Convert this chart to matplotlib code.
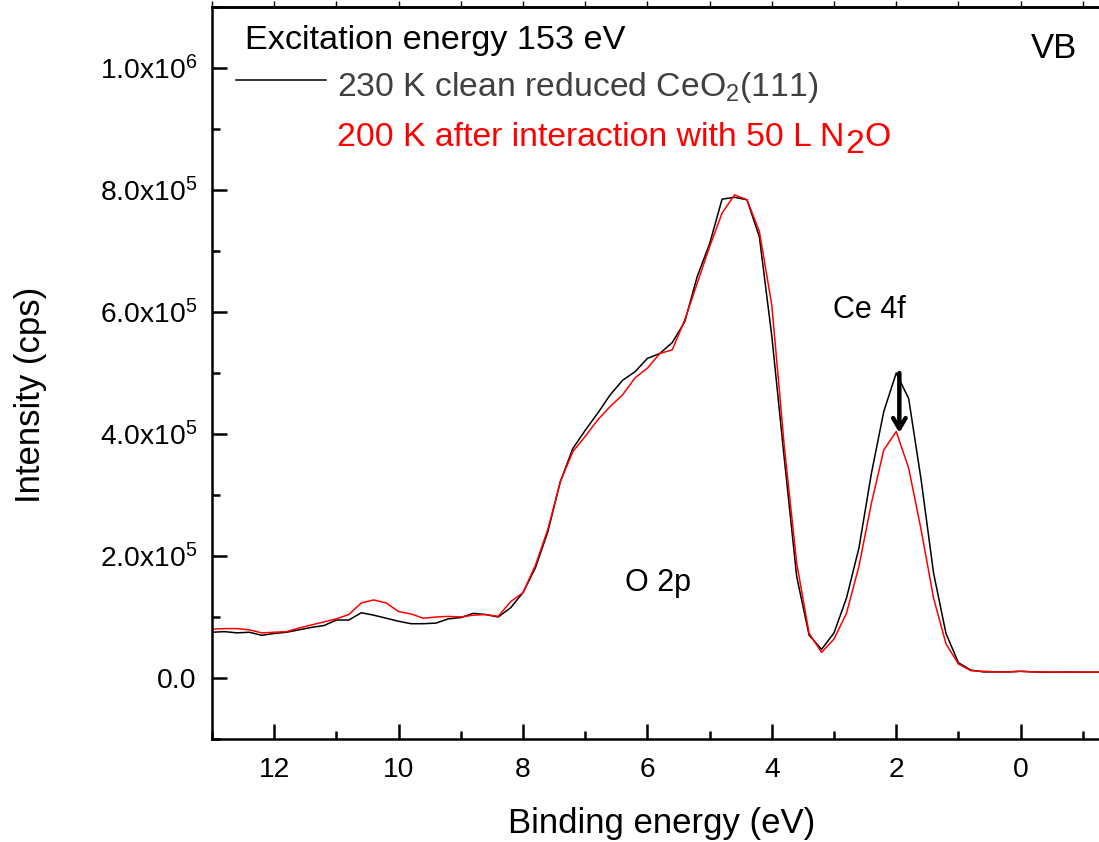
import math
import matplotlib
matplotlib.use('Agg')
import matplotlib.pyplot as plt
from matplotlib.ticker import MultipleLocator, FixedLocator, FuncFormatter

plt.rcParams['font.family'] = ['Liberation Sans', 'DejaVu Sans']
plt.rcParams['mathtext.fontset'] = 'custom'
plt.rcParams['mathtext.rm'] = 'Liberation Sans'
plt.rcParams['mathtext.it'] = 'Liberation Sans:italic'
plt.rcParams['mathtext.bf'] = 'Liberation Sans:bold'

# Binding energy grid (eV)
energy = [13.0, 12.8, 12.6, 12.4, 12.2, 12.0, 11.8, 11.6, 11.4, 11.2,
          11.0, 10.8, 10.6, 10.4, 10.2, 10.0, 9.8, 9.6, 9.4, 9.2,
          9.0, 8.8, 8.6, 8.4, 8.2, 8.0, 7.8, 7.6, 7.4, 7.2,
          7.0, 6.8, 6.6, 6.4, 6.2, 6.0, 5.8, 5.6, 5.4, 5.2,
          5.0, 4.8, 4.6, 4.4, 4.2, 4.0, 3.8, 3.6, 3.4, 3.2,
          3.0, 2.8, 2.6, 2.4, 2.2, 2.0, 1.8, 1.6, 1.4, 1.2,
          1.0, 0.8, 0.6, 0.4, 0.2, 0.0, -0.2, -0.4, -0.6, -0.8,
          -1.0, -1.2, -1.4]

# Intensity in kcps: 230 K clean reduced CeO2(111)
clean_k = [75, 76, 74, 75, 70, 73, 75, 79, 83, 86,
           95, 95, 107, 103, 98, 93, 89, 89, 90, 97,
           99, 106, 104, 100, 115, 140, 181, 240, 322, 376,
           406, 434, 464, 488, 502, 524, 532, 550, 584, 658,
           712, 785, 788, 784, 723, 560, 360, 166, 70, 47,
           74, 131, 213, 335, 437, 500, 458, 325, 172, 73,
           25, 13, 10, 10, 10, 11, 10, 9.5, 9.5, 9.8,
           9.5, 9.5, 9.5]

# Intensity in kcps: 200 K after interaction with 50 L N2O
n2o_k = [80, 81, 81, 79, 74, 75, 76, 82, 87, 92,
         97, 104, 123, 128, 123, 109, 105, 98, 100, 101,
         100, 103, 104, 101, 125, 140, 185, 244, 322, 371,
         396, 423, 445, 464, 492, 508, 532, 538, 587, 647,
         707, 762, 792, 784, 732, 611, 380, 188, 73, 42,
         64, 106, 183, 286, 374, 404, 344, 243, 131, 56,
         23, 12, 11, 10, 10, 11, 10, 9.8, 9.6, 9.8,
         9.6, 9.6, 9.6]

clean = [v * 1e3 for v in clean_k]
n2o = [v * 1e3 for v in n2o_k]

y_ticks = [0, 2e5, 4e5, 6e5, 8e5, 1e6]
x_ticks = [12, 10, 8, 6, 4, 2, 0]

W, H = 1099, 842
fig = plt.figure(figsize=(W / 100, H / 100), dpi=100)
ax = fig.add_axes([212 / W, 1 - 739 / H, 892 / W, (739 - 7) / H])

ax.plot(energy, clean, color='black', lw=1.1)
ax.plot(energy, n2o, color='red', lw=1.1)

ax.set_xlim(13, -1.34)
ax.set_ylim(-1e5, 1.1e6)

for s in ['left', 'bottom', 'top']:
    ax.spines[s].set_linewidth(1.8)
ax.spines['right'].set_visible(False)

ax.xaxis.set_major_locator(FixedLocator(x_ticks))
ax.xaxis.set_minor_locator(MultipleLocator(1))
ax.yaxis.set_major_locator(FixedLocator(y_ticks))
ax.yaxis.set_minor_locator(MultipleLocator(1e5))


def yfmt(v, pos):
    if v == 0:
        return '0.0'
    e = int(math.floor(math.log10(abs(v)) + 1e-9))
    m = v / 10 ** e
    return r'$\mathregular{%.1fx10^{%d}}$' % (m, e)


ax.yaxis.set_major_formatter(FuncFormatter(yfmt))
ax.tick_params(axis='both', which='major', direction='in', length=11, width=1.8,
               labelsize=20.3)
ax.tick_params(axis='both', which='minor', direction='in', length=6, width=1.8)
ax.tick_params(axis='y', which='major', pad=11)
ax.tick_params(axis='x', which='major', pad=13)
ax.tick_params(right=False, top=False, which='both')

sec = ax.secondary_xaxis('top')
sec.xaxis.set_major_locator(MultipleLocator(1))
sec.tick_params(direction='out', length=4, width=1.0, labeltop=False)
sec.spines['top'].set_linewidth(1.8)

ax.set_xlabel('Binding energy (eV)', fontsize=25)
ax.xaxis.label.set_va('center')
ax.xaxis.set_label_coords((662 - 212) / 892, (739 - 823) / 732)
ax.set_ylabel('Intensity (cps)', fontsize=25)
ax.yaxis.label.set_va('center')
ax.yaxis.set_label_coords((31 - 212) / 892, (739 - 395) / 732)


def fx(px):
    return px / W


def fy(py):
    return 1 - py / H


FS = 24.3
fig.text(fx(245), fy(40), 'Excitation energy 153 eV', fontsize=FS + 0.4,
         ha='left', va='center', color='black')
fig.add_artist(plt.Line2D([fx(236), fx(326)], [fy(80), fy(80)], color='black', lw=1.1))
fig.text(fx(337), fy(96), r'230 K clean reduced CeO$_\mathregular{2}$(111)', fontsize=FS,
         ha='left', va='baseline', color='#404040')

# red legend entry with a full-size lowered "2" in N2O
red_main = fig.text(fx(337), fy(146), '200 K after interaction with 50 L N', fontsize=FS,
                    ha='left', va='baseline', color='red')
fig.canvas.draw()
r = fig.canvas.get_renderer()
bb = red_main.get_window_extent(renderer=r)
sub = fig.text(bb.x1 / W + 1 / W, fy(153), '2', fontsize=FS, ha='left', va='baseline', color='red')
bb2 = sub.get_window_extent(renderer=r)
fig.text(bb2.x1 / W, fy(146), 'O', fontsize=FS, ha='left', va='baseline', color='red')

fig.text(fx(1054), fy(48), 'VB', fontsize=25, ha='center', va='center', color='black')

ax.text(2.43, 6.03e5, 'Ce 4f', fontsize=22, ha='center', va='center')
ax.text(5.83, 1.55e5, 'O 2p', fontsize=22, ha='center', va='center')

ax.annotate('', xy=(1.95, 4.02e5), xytext=(1.95, 5.0e5),
            arrowprops=dict(arrowstyle='->,head_length=0.75,head_width=0.45',
                            lw=3.2, color='black', shrinkA=0, shrinkB=0))

fig.savefig('out.png', dpi=100)
